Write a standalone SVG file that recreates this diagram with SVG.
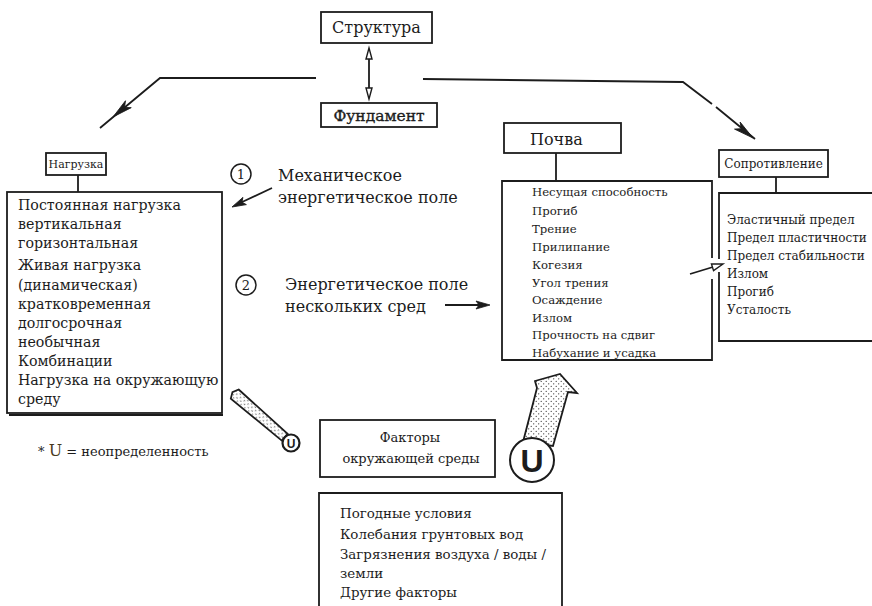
<svg xmlns="http://www.w3.org/2000/svg" width="872" height="606" viewBox="0 0 872 606">
  <style>
    .box { fill: #fff; stroke: #1c1c1c; stroke-width: 1.8; }
    .frame { fill: none; stroke: #1c1c1c; stroke-width: 1.8; }
    .ln { fill: none; stroke: #1c1c1c; stroke-width: 1.8; }
    .head { fill: #1c1c1c; stroke: #1c1c1c; stroke-width: 0.8; }
    .ohead { fill: #fff; stroke: #1c1c1c; stroke-width: 1.4; }
    text { font-family: "DejaVu Serif", "Liberation Serif", serif; fill: #1c1c1c; }
    .t11 { font-size: 11px; }
    .t12 { font-size: 12px; }
    .t13 { font-size: 13px; }
    .t14 { font-size: 14.2px; }
    .t16 { font-size: 16px; }
    .mid { text-anchor: middle; }
    .tube { fill: url(#dots); stroke: #1c1c1c; stroke-width: 1.8; }
    .ucirc { fill: #fff; stroke: #1c1c1c; }
    .u { font-family: "Liberation Sans", "DejaVu Sans", sans-serif; font-weight: bold; text-anchor: middle; }
  </style>
  <defs>
    <pattern id="dots" width="5" height="5" patternUnits="userSpaceOnUse">
      <rect width="5" height="5" fill="#fff"/>
      <circle cx="1.2" cy="1.3" r="0.65" fill="#333"/>
      <circle cx="3.7" cy="3.8" r="0.65" fill="#333"/>
    </pattern>
  </defs>

  <!-- top nodes -->
  <g id="node-struktura">
    <rect class="box" x="321" y="12" width="111" height="31"/>
    <text class="t16 mid" x="376.5" y="33">Структура</text>
  </g>
  <g id="node-fundament">
    <rect class="box" x="321" y="103" width="116" height="24"/>
    <text class="mid" x="379" y="121" font-size="15.5" stroke="#1c1c1c" stroke-width="0.35">Фундамент</text>
  </g>

  <!-- load -->
  <g id="node-nagruzka">
    <rect class="box" x="46" y="153" width="60" height="22"/>
    <text class="t11 mid" x="76" y="168">Нагрузка</text>
  </g>
  <g id="node-nagruzka-list">
    <rect class="box" x="7" y="192" width="215" height="221"/>
    <line class="ln" x1="9" y1="415" x2="223" y2="415" stroke-width="1.2"/>
    <text class="t14" x="18">
      <tspan x="18" y="210">Постоянная нагрузка</tspan>
      <tspan x="18" y="229">вертикальная</tspan>
      <tspan x="18" y="248">горизонтальная</tspan>
      <tspan x="18" y="270">Живая нагрузка</tspan>
      <tspan x="18" y="290">(динамическая)</tspan>
      <tspan x="18" y="309">кратковременная</tspan>
      <tspan x="18" y="328">долгосрочная</tspan>
      <tspan x="18" y="347">необычная</tspan>
      <tspan x="18" y="366">Комбинации</tspan>
      <tspan x="18" y="385">Нагрузка на окружающую</tspan>
      <tspan x="18" y="404">среду</tspan>
    </text>
  </g>

  <!-- energy field labels -->
  <g id="node-field-1">
    <circle cx="241" cy="174" r="10" fill="#fff" stroke="#1c1c1c" stroke-width="1.5"/>
    <text class="t13 mid" x="241" y="179">1</text>
    <text class="t16" x="278" y="181">Механическое</text>
    <text class="t16" x="278" y="203">энергетическое поле</text>
  </g>
  <g id="node-field-2">
    <circle cx="246" cy="285" r="10" fill="#fff" stroke="#1c1c1c" stroke-width="1.5"/>
    <text class="t13 mid" x="246" y="290">2</text>
    <text class="t16" x="285" y="290">Энергетическое поле</text>
    <text class="t16" x="285" y="312">нескольких сред</text>
  </g>

  <!-- soil -->
  <g id="node-pochva">
    <rect class="box" x="504" y="123" width="117" height="30" stroke-width="2.6"/>
    <text class="t16" x="530" y="145">Почва</text>
  </g>
  <g id="node-pochva-list">
    <path class="frame" d="M712,258 V181 H502 V360 H712 V279"/>
    <text font-size="11.7" x="532">
      <tspan x="532" y="195.5">Несущая способность</tspan>
      <tspan x="532" y="215">Прогиб</tspan>
      <tspan x="532" y="233">Трение</tspan>
      <tspan x="532" y="250.5">Прилипание</tspan>
      <tspan x="532" y="268.5">Когезия</tspan>
      <tspan x="532" y="286.5">Угол трения</tspan>
      <tspan x="532" y="303.5">Осаждение</tspan>
      <tspan x="532" y="321.5">Излом</tspan>
      <tspan x="532" y="338.5">Прочность на сдвиг</tspan>
      <tspan x="532" y="357">Набухание и усадка</tspan>
    </text>
  </g>

  <!-- resistance -->
  <g id="node-soprotivlenie">
    <rect class="box" x="719" y="150" width="109" height="27"/>
    <text class="t12 mid" x="773.5" y="168">Сопротивление</text>
  </g>
  <g id="node-soprotivlenie-list">
    <path class="frame" d="M880,193 H719 V259 M719,272 V341 H880"/>
    <text class="t12" x="727">
      <tspan x="727" y="223.5">Эластичный предел</tspan>
      <tspan x="727" y="241.5">Предел пластичности</tspan>
      <tspan x="727" y="259.5">Предел стабильности</tspan>
      <tspan x="727" y="277.5">Излом</tspan>
      <tspan x="727" y="295.5">Прогиб</tspan>
      <tspan x="727" y="313.5">Усталость</tspan>
    </text>
  </g>

  <!-- environment -->
  <g id="node-factors">
    <rect class="box" x="320" y="420" width="175" height="57"/>
    <text class="t13 mid" x="410" y="442">Факторы</text>
    <text class="t13 mid" x="411" y="463">окружающей среды</text>
  </g>
  <g id="node-factors-list">
    <path class="frame" d="M319,610 V493 H562 V610"/>
    <text font-size="13.4" x="340">
      <tspan x="340" y="518">Погодные условия</tspan>
      <tspan x="340" y="539">Колебания грунтовых вод</tspan>
      <tspan x="340" y="559">Загрязнения воздуха / воды /</tspan>
      <tspan x="340" y="578">земли</tspan>
      <tspan x="340" y="597">Другие факторы</tspan>
    </text>
  </g>

  <g id="node-legend">
    <text class="t13" x="38" y="456">* <tspan font-size="16" fill="#4a3a20">U</tspan> = неопределенность</text>
  </g>

  <!-- connectors -->
  <g id="connectors">
    <!-- stems from title boxes to lists -->
    <line class="ln" x1="78" y1="175" x2="78" y2="192"/>
    <line class="ln" x1="556" y1="153" x2="556" y2="181"/>
    <line class="ln" x1="776" y1="177" x2="776" y2="193"/>

    <!-- structure / foundation double arrow -->
    <line class="ln" x1="369" y1="52" x2="369" y2="95" stroke-width="1.6"/>
    <path class="ohead" d="M369,48 L372,59 L366,59 Z"/>
    <path class="ohead" d="M369,99 L372,88 L366,88 Z"/>

    <!-- foundation split to load and resistance -->
    <path class="ln" d="M316,78 H160 L100,128"/>
    <g transform="translate(113,117) rotate(140.2)">
      <path class="head" d="M0,0 L-20,-4.5 L-15,0 L-20,4.5 Z"/>
    </g>
    <path class="ln" d="M423,79 L683,82 L712,104 M716,107 L755,139"/>
    <g transform="translate(753,138) rotate(38.4)">
      <path class="head" d="M0,0 L-20,-4.5 L-15,0 L-20,4.5 Z"/>
    </g>

    <!-- field arrows -->
    <line class="ln" x1="272" y1="188" x2="240" y2="203"/>
    <g transform="translate(232,207) rotate(154.6)">
      <path class="head" d="M0,0 L-14,-4 L-11,0 L-14,4 Z"/>
    </g>
    <line class="ln" x1="445" y1="305" x2="480" y2="305"/>
    <path class="head" d="M490,305 L476,301 L479,305 L476,309 Z"/>

    <!-- soil to resistance -->
    <line class="ln" x1="690" y1="274" x2="713" y2="267"/>
    <g transform="translate(723,264) rotate(-17.4)">
      <path class="ohead" d="M0,0 L-11,-3.5 L-11,3.5 Z"/>
    </g>

    <!-- uncertainty tube toward load -->
    <g transform="translate(237,396) rotate(40.8)">
      <path class="tube" d="M-3,-6 L63,-4.5 L63,4.5 L-3,6 L-6,0 Z"/>
    </g>
    <circle class="ucirc" cx="291" cy="443" r="8.5" stroke-width="2.2"/>
    <text class="u" x="291" y="447.5" font-size="12">U</text>

    <!-- uncertainty arrow toward soil -->
    <path class="tube" d="M523,442 L537,388 L535,381 L560,374 L577,393 L568,392 L553,446 Z"/>
    <circle class="ucirc" cx="532" cy="460" r="22" stroke-width="2"/>
    <text class="u" x="532" y="472" font-size="32">U</text>
  </g>
</svg>
